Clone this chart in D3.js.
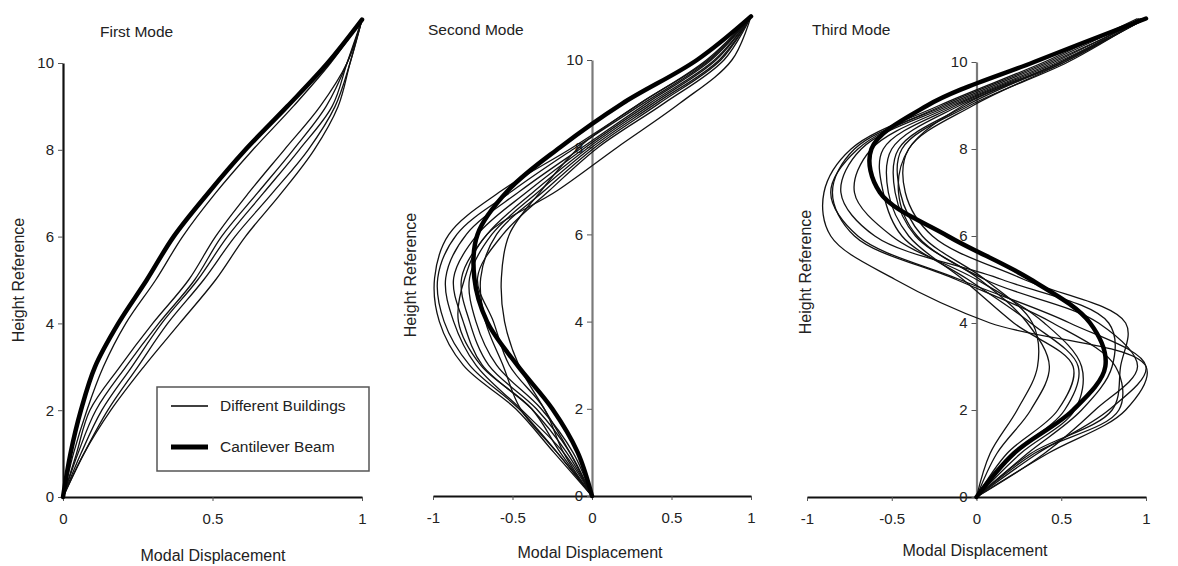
<!DOCTYPE html>
<html><head><meta charset="utf-8">
<script src="https://cdn.jsdelivr.net/npm/d3@7"></script>
<style>
html,body{margin:0;padding:0;background:#fff;}
svg text{font-family:"Liberation Sans",Arial,Helvetica,sans-serif;fill:#222;}
</style></head>
<body><svg id="chart" width="1178" height="566"></svg>
<script>
// ---------- data ----------
const heights = [0,1,2,3,4,5,6,7,8,9,10,11];
const yTicks = [0,2,4,6,8,10];
const xTicks1 = [0,0.5,1];
const xTicks23 = [-1,-0.5,0,0.5,1];
const titles = ["First Mode","Second Mode","Third Mode"];
const xTitle = "Modal Displacement";
const yTitle = "Height Reference";
const legendLabels = ["Different Buildings","Cantilever Beam"];

// First mode
const mode1Beam = [0,0.025,0.06,0.107,0.185,0.28,0.37,0.485,0.61,0.75,0.885,1.0];
const mode1Buildings = [
  [0,0.035,0.08,0.135,0.21,0.31,0.40,0.51,0.635,0.77,0.895,1],
  [0,0.045,0.09,0.19,0.30,0.42,0.51,0.62,0.74,0.86,0.95,1],
  [0,0.05,0.11,0.21,0.32,0.44,0.53,0.65,0.77,0.88,0.95,1],
  [0,0.06,0.13,0.23,0.33,0.45,0.55,0.67,0.79,0.90,0.95,1],
  [0,0.07,0.15,0.25,0.35,0.47,0.575,0.70,0.82,0.91,0.96,1],
  [0,0.07,0.16,0.27,0.39,0.51,0.61,0.73,0.84,0.92,0.96,1]
];
// Second mode
const mode2Beam = [0,-0.09,-0.25,-0.47,-0.66,-0.74,-0.72,-0.53,-0.20,0.19,0.66,1];
const mode2Buildings = [
  [0,-0.24,-0.48,-0.81,-0.96,-0.99,-0.90,-0.57,-0.12,0.30,0.72,1],
  [0,-0.22,-0.46,-0.77,-0.93,-0.97,-0.85,-0.50,-0.10,0.32,0.74,1],
  [0,-0.18,-0.45,-0.73,-0.87,-0.92,-0.79,-0.45,-0.06,0.34,0.75,1],
  [0,-0.16,-0.38,-0.69,-0.81,-0.87,-0.72,-0.40,-0.04,0.36,0.77,1],
  [0,-0.14,-0.35,-0.65,-0.77,-0.82,-0.66,-0.36,-0.02,0.38,0.78,1],
  [0,-0.12,-0.32,-0.60,-0.73,-0.77,-0.63,-0.33,0.00,0.40,0.80,1],
  [0,-0.22,-0.45,-0.56,-0.67,-0.70,-0.60,-0.30,0.02,0.42,0.81,1],
  [0,-0.18,-0.30,-0.52,-0.62,-0.72,-0.56,-0.27,0.04,0.45,0.83,1],
  [0,-0.14,-0.30,-0.46,-0.55,-0.57,-0.52,-0.32,-0.08,0.30,0.73,1],
  [0,-0.20,-0.38,-0.70,-0.84,-0.80,-0.66,-0.22,0.16,0.55,0.88,1]
];
// Third mode
const mode3Beam = [0,0.22,0.57,0.76,0.67,0.32,-0.17,-0.57,-0.62,-0.29,0.34,1.0];
const mode3Buildings = [
  [0,0.42,0.88,1.00,0.08,-0.48,-0.86,-0.90,-0.74,-0.22,0.40,0.95],
  [0,0.36,0.78,1.00,0.55,-0.10,-0.70,-0.86,-0.70,-0.20,0.42,0.97],
  [0,0.34,0.84,0.82,0.45,-0.12,-0.72,-0.85,-0.72,-0.18,0.44,1.00],
  [0,0.30,0.62,0.80,0.78,0.15,-0.60,-0.80,-0.68,-0.16,0.46,0.98],
  [0,0.26,0.58,0.62,0.40,0.00,-0.50,-0.72,-0.62,-0.14,0.48,1.00],
  [0,0.22,0.52,0.60,0.32,-0.05,-0.44,-0.55,-0.55,-0.12,0.50,1.00],
  [0,0.18,0.48,0.57,0.22,-0.08,-0.40,-0.52,-0.50,-0.10,0.52,0.98],
  [0,0.12,0.32,0.43,0.30,0.02,-0.36,-0.48,-0.46,-0.06,0.50,1.00],
  [0,0.08,0.24,0.36,0.33,0.05,-0.32,-0.45,-0.44,-0.04,0.54,0.98],
  [0,0.32,0.80,0.85,0.88,0.28,-0.26,-0.42,-0.40,-0.02,0.52,1.00],
  [0,0.40,0.70,0.95,0.72,0.05,-0.35,-0.46,-0.40,-0.08,0.50,0.96]
];

// ---------- drawing ----------
const svg = d3.select("#chart");

const panels = [
  {beam: mode1Beam, bld: mode1Buildings, xDom:[0,1], xRange:[63,362], yRange:[497,63], xTicks:xTicks1,
   yAxisAt:0, title:titles[0], titleX:100, titleY:37, yLabX:24, yLabY:280, xLabX:213, xLabY:561, yAxisColor:"#111"},
  {beam: mode2Beam, bld: mode2Buildings, xDom:[-1,1], xRange:[433,751], yRange:[496,60], xTicks:xTicks23,
   yAxisAt:0, title:titles[1], titleX:428, titleY:35, yLabX:416, yLabY:275, xLabX:590, xLabY:558, yAxisColor:"#7a7a7a"},
  {beam: mode3Beam, bld: mode3Buildings, xDom:[-1,1], xRange:[807,1146], yRange:[497,62], xTicks:xTicks23,
   yAxisAt:0, title:titles[2], titleX:812, titleY:35, yLabX:811, yLabY:272, xLabX:975, xLabY:556, yAxisColor:"#7a7a7a"}
];

const fmt = d => String(d);

panels.forEach((p) => {
  const x = d3.scaleLinear().domain(p.xDom).range(p.xRange);
  const y = d3.scaleLinear().domain([0,10]).range(p.yRange);
  const g = svg.append("g");

  // x axis
  const xa = g.append("g").attr("transform", `translate(0,${y(0)})`)
    .call(d3.axisBottom(x).tickValues(p.xTicks).tickFormat(fmt).tickSize(4).tickSizeOuter(0).tickPadding(12));
  xa.select(".domain").attr("stroke","#111").attr("stroke-width",2);
  xa.selectAll(".tick line").attr("stroke","#555").attr("stroke-width",1);
  xa.selectAll(".tick text").style("font-size","15px").attr("fill","#222");

  // y axis
  const ya = g.append("g").attr("transform", `translate(${x(p.yAxisAt)},0)`)
    .call(d3.axisLeft(y).tickValues(yTicks).tickFormat(fmt).tickSize(5).tickSizeOuter(0).tickPadding(4));
  ya.select(".domain").attr("stroke",p.yAxisColor).attr("stroke-width",2.2);
  ya.selectAll(".tick line").attr("stroke","#555").attr("stroke-width",1);
  ya.selectAll(".tick text").style("font-size","15px").attr("fill","#222");

  const line = d3.line()
    .x(d => x(d.v)).y(d => y(d.h))
    .curve(d3.curveCatmullRom.alpha(0.5));
  const toPts = arr => arr.map((v,i) => ({v, h: heights[i]}));

  g.append("g").selectAll("path").data(p.bld).join("path")
    .attr("d", d => line(toPts(d)))
    .attr("fill","none").attr("stroke","#111").attr("stroke-width",1.3);
  g.append("path").attr("d", line(toPts(p.beam)))
    .attr("fill","none").attr("stroke","#000").attr("stroke-width",4.5)
    .attr("stroke-linejoin","round").attr("stroke-linecap","round");

  // titles
  g.append("text").attr("x",p.titleX).attr("y",p.titleY).style("font-size","15.5px").text(p.title);
  g.append("text").attr("x",p.xLabX).attr("y",p.xLabY).attr("text-anchor","middle")
    .style("font-size","16px").text(xTitle);
  g.append("text").attr("transform",`translate(${p.yLabX},${p.yLabY}) rotate(-90)`)
    .attr("text-anchor","middle").style("font-size","16px").text(yTitle);
});

// legend (in first panel)
const lg = svg.append("g");
lg.append("rect").attr("x",157).attr("y",387).attr("width",212).attr("height",84)
  .attr("fill","#fff").attr("stroke","#555").attr("stroke-width",1.5);
const legendWidths = [1.3,5];
legendLabels.forEach((lab,i) => {
  const yy = 406 + i*41;
  lg.append("line").attr("x1",171).attr("x2",208).attr("y1",yy).attr("y2",yy)
    .attr("stroke","#000").attr("stroke-width",legendWidths[i]);
  lg.append("text").attr("x",220).attr("y",yy+5).style("font-size","15.5px").text(lab);
});
</script></body></html>
